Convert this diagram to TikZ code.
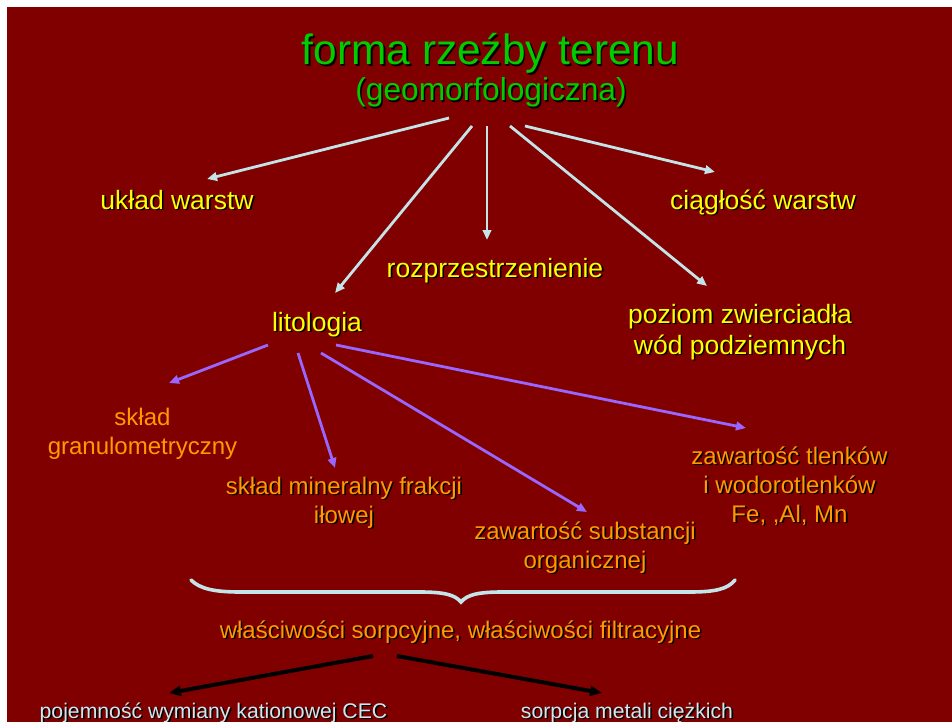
\documentclass[tikz,border=0pt]{standalone}
\usepackage{fontspec}
\setmainfont{Liberation Sans}
\usetikzlibrary{arrows.meta}
\definecolor{bg}{RGB}{128,0,0}
\definecolor{ttl}{RGB}{0,204,0}
\definecolor{yel}{RGB}{255,255,0}
\definecolor{org}{RGB}{255,153,0}
\definecolor{lbl}{RGB}{205,232,238}
\definecolor{arr}{RGB}{195,228,232}
\definecolor{pur}{RGB}{153,102,255}
\newcommand\shlabel[4]{%
  \node[#3,text=black,xshift=1.6pt,yshift=-1.6pt] (#1s) at (#2) {#4};
  \node[#3] (#1) at (#2) {#4};}
\begin{document}
\begin{tikzpicture}[x=1pt,y=-1pt,
  lab/.style={inner sep=0pt,anchor=base,align=center},
  big/.style={lab,text=ttl,font=\fontsize{42.4}{50}\selectfont},
  sub/.style={lab,text=ttl,font=\fontsize{31.7}{38}\selectfont},
  yl/.style={lab,text=yel,font=\fontsize{26.5}{31}\selectfont},
  og/.style={lab,text=org,font=\fontsize{24}{29}\selectfont},
  bl/.style={lab,text=lbl,font=\fontsize{21.2}{26}\selectfont},
  arrL/.style={draw=arr,line width=2.8pt,-{Triangle[length=10pt,width=8.5pt]}},
  arrP/.style={draw=pur,line width=2.8pt,-{Triangle[length=10pt,width=8.5pt]}},
  arrB/.style={draw=black,line width=4pt,-{Triangle[length=12pt,width=10pt]}},
  bracestyle/.style={draw=arr,line width=3.6pt,line cap=round}]
\useasboundingbox (0,0) rectangle (952,722);
\fill[white] (0,0) rectangle (952,722);
\fill[bg] (7,7) rectangle (952,722);
% labels (multi-line nodes: base = baseline of last line)
\shlabel{title}{490.5,65}{big}{forma rzeźby terenu}
\shlabel{geo}{491,101}{sub}{(geomorfologiczna)}
\shlabel{uklad}{177,209}{yl}{układ warstw}
\shlabel{ciag}{763,209}{yl}{ciągłość warstw}
\shlabel{rozp}{495,277}{yl}{rozprzestrzenienie}
\shlabel{lito}{317,331}{yl}{litologia}
\shlabel{poz}{740,354}{yl}{poziom zwierciadła\\wód podziemnych}
\node[og] (gran) at (142.5,454) {skład\\granulometryczny};
\shlabel{mine}{344,523}{og}{skład mineralny frakcji\\iłowej}
\shlabel{subs}{585,568}{og}{zawartość substancji\\organicznej}
\shlabel{tlen}{789.5,522}{og}{zawartość tlenków\\i wodorotlenków\\Fe, ,Al, Mn}
\shlabel{wlas}{460.5,638}{og}{właściwości sorpcyjne, właściwości filtracyjne}
\shlabel{poj}{213.5,718}{bl}{pojemność wymiany kationowej CEC}
\shlabel{sorp}{627,718}{bl}{sorpcja metali ciężkich}
% connector end points
\coordinate (t1) at (449,118); \coordinate (e1) at (207,179);
\coordinate (t2) at (472,126); \coordinate (e2) at (335,293);
\coordinate (t3) at (487,126); \coordinate (e3) at (487,240);
\coordinate (t4) at (510,126); \coordinate (e4) at (707,286);
\coordinate (t5) at (525,126); \coordinate (e5) at (715,172);
\coordinate (l1) at (268,345); \coordinate (f1) at (169,383);
\coordinate (l2) at (298,353); \coordinate (f2) at (335,468);
\coordinate (l3) at (321,353); \coordinate (f3) at (587,512);
\coordinate (l4) at (336,345); \coordinate (f4) at (746,428);
\coordinate (w1) at (373,656); \coordinate (g1) at (169,693);
\coordinate (w2) at (397,656); \coordinate (g2) at (602,693);
% connectors
\draw[arrL] (t1) -- (e1);
\draw[arrL] (t2) -- (e2);
\draw[arrL] (t3) -- (e3);
\draw[arrL] (t4) -- (e4);
\draw[arrL] (t5) -- (e5);
\draw[arrP] (l1) -- (f1);
\draw[arrP] (l2) -- (f2);
\draw[arrP] (l3) -- (f3);
\draw[arrP] (l4) -- (f4);
\draw[arrB] (w1) -- (g1);
\draw[arrB] (w2) -- (g2);
% brace
\draw[bracestyle] (191,580) .. controls (200,589) and (215,592) .. (240,592)
  -- (420,592) .. controls (445,592) and (455,595) .. (461,602)
  .. controls (467,595) and (477,592) .. (502,592)
  -- (690,592) .. controls (715,592) and (728,589) .. (735,580);
\end{tikzpicture}
\end{document}
